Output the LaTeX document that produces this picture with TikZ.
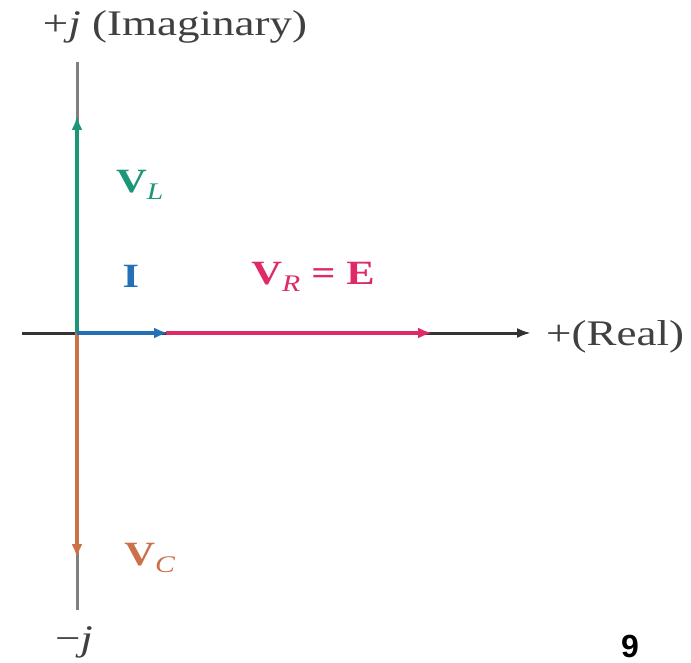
\documentclass[tikz,border=0pt]{standalone}
\usepackage{fontspec}
\setmainfont{Liberation Serif}[FakeStretch=1.25]
\newfontfamily\digitfont{Liberation Sans}
\usepackage{xcolor}
\definecolor{indgreen}{RGB}{28,150,118}
\definecolor{curblue}{RGB}{36,112,184}
\definecolor{respink}{RGB}{222,42,102}
\definecolor{capbrown}{RGB}{204,112,72}
\definecolor{axisgray}{RGB}{128,128,128}
\usetikzlibrary{arrows.meta}
\tikzset{
  axisline/.style={line width=3pt},
  phasor/.style={line width=4pt, -{Latex[length=14pt, width=11pt]}},
  axislabel/.style={font=\fontsize{36}{40}\selectfont, text=black!75, inner sep=0pt},
  phlabel/.style={font=\fontsize{34}{40}\selectfont\bfseries, inner sep=0pt},
}
\begin{document}
\begin{tikzpicture}[x=1pt, y=-1pt]
  \useasboundingbox (0,0) rectangle (691,663);
  \clip (0,0) rectangle (691,663);
  % Axes
  \coordinate (o) at (77,333);
  \coordinate (imtop) at (77,62);
  \coordinate (imbot) at (77,610);
  \coordinate (releft) at (22,333);
  \coordinate (reright) at (531,333);
  \draw[axisline, axisgray] (imtop) -- (imbot);
  \draw[axisline, black!80, -{Latex[length=14pt, width=10pt]}] (releft) -- (reright);

  % Phasors
  \coordinate (vl) at (77,116);
  \coordinate (vc) at (77,558);
  \coordinate (ii) at (168,333);
  \coordinate (vr) at (432,333);
  \draw[phasor, indgreen] (o) -- (vl);
  \draw[phasor, capbrown] (o) -- (vc);
  \draw[phasor, respink, shorten <=-2pt] (ii) -- (vr);
  \draw[phasor, curblue] (o) -- (ii);

  % Labels
  \node[axislabel] (imlabel) at (175,27) {+\textit{j} (Imaginary)};
  \node[axislabel, anchor=west] (relabel) at (546,337) {+(Real)};
  \node[axislabel] (negj) at (74,642) {−\textit{j}};
  \node[phlabel, text=indgreen] (vllabel) at (140,185) {V\textsubscript{\normalfont\itshape L}};
  \node[phlabel, text=curblue] (ilabel) at (131,276) {I};
  \node[phlabel, text=respink] (vrlabel) at (313,277) {V\textsubscript{\normalfont\itshape R} = E};
  \node[phlabel, text=capbrown] (vclabel) at (150,558) {V\textsubscript{\normalfont\itshape C}};
  \node[font=\fontsize{32}{36}\selectfont\digitfont\bfseries, inner sep=0pt] (fignum) at (630,646) {9};
\end{tikzpicture}
\end{document}
